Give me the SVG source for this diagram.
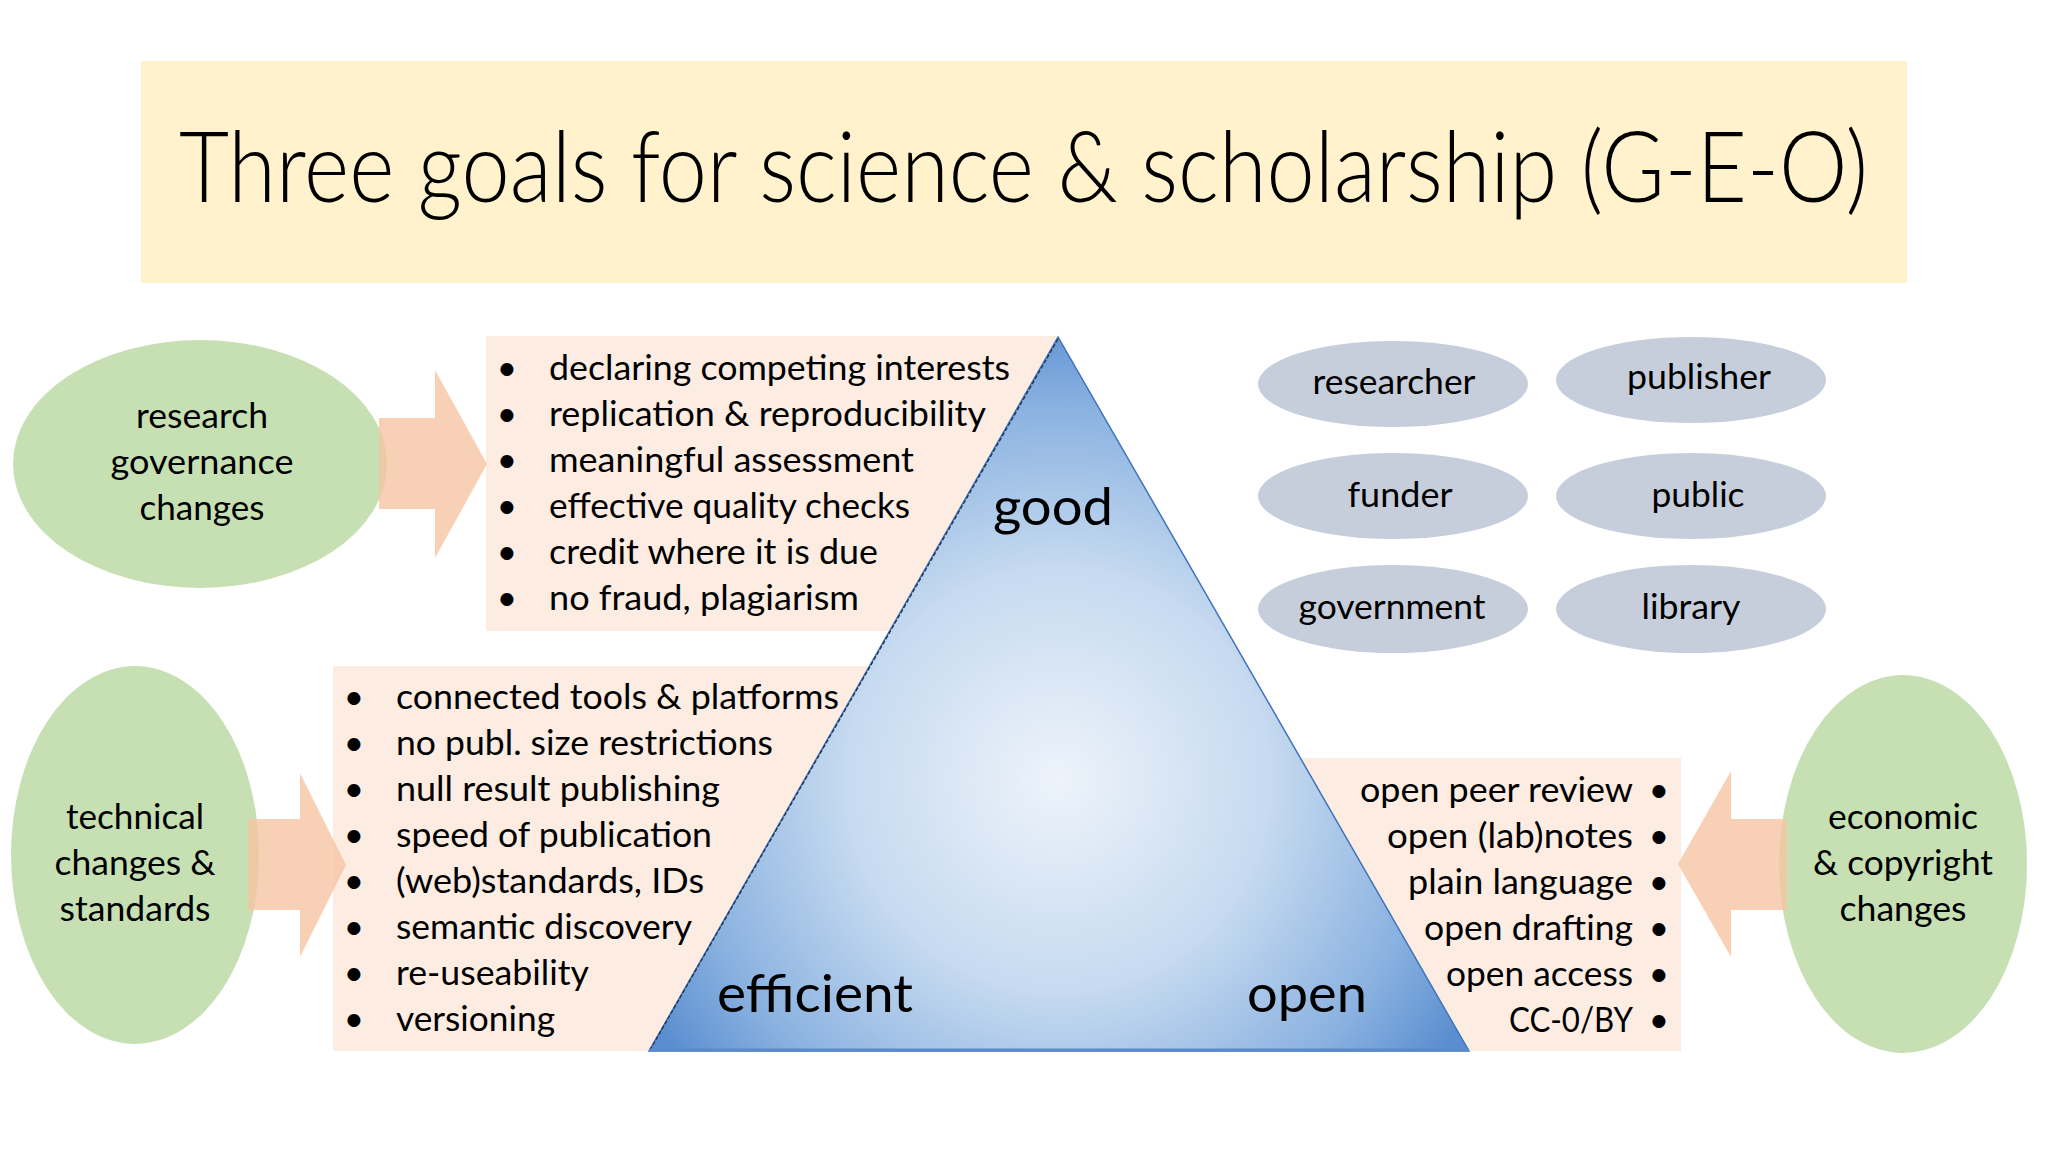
<svg xmlns="http://www.w3.org/2000/svg" width="2048" height="1152" viewBox="0 0 2048 1152">
<style>
text{font-family:Lato,"Open Sans","Liberation Sans",sans-serif;fill:#000;}
.t{font-size:35px;}
.c{font-size:35px;text-anchor:middle;}
.r{font-size:35px;text-anchor:end;}
.big{font-size:53px;}
.title{font-size:98px;font-weight:300;}
.green{fill:#C6E0B4;}
.gray{fill:#C7CEDB;}
.box{fill:#FCECE1;}
.arrow{fill:#F6C4A2;opacity:0.8;}
</style>
<defs>
<radialGradient id="tri" gradientUnits="userSpaceOnUse" cx="1058" cy="780" r="470">
<stop offset="0" stop-color="#EDF3FA"/>
<stop offset="0.45" stop-color="#C6DAF0"/>
<stop offset="0.8" stop-color="#89B1E0"/>
<stop offset="1" stop-color="#5B8ED0"/>
</radialGradient>
</defs>
<rect width="2048" height="1152" fill="#fff"/>
<g id="title">
<rect x="141" y="61" width="1766" height="222" fill="#FFF2CC"/>
<text class="title" x="179" y="202" textLength="1689" lengthAdjust="spacingAndGlyphs">Three goals for science &amp; scholarship (G-E-O)</text>
</g>
<g id="list-good">
<rect class="box" x="486" y="336" width="572" height="295"/>
<text class="c" x="507" y="380">•</text><text class="t" x="549" y="380" textLength="461" lengthAdjust="spacingAndGlyphs">declaring competing interests</text>
<text class="c" x="507" y="426">•</text><text class="t" x="549" y="426" textLength="437" lengthAdjust="spacingAndGlyphs">replication &amp; reproducibility</text>
<text class="c" x="507" y="472">•</text><text class="t" x="549" y="472" textLength="365" lengthAdjust="spacingAndGlyphs">meaningful assessment</text>
<text class="c" x="507" y="518">•</text><text class="t" x="549" y="518" textLength="361" lengthAdjust="spacingAndGlyphs">effective quality checks</text>
<text class="c" x="507" y="564">•</text><text class="t" x="549" y="564" textLength="329" lengthAdjust="spacingAndGlyphs">credit where it is due</text>
<text class="c" x="507" y="610">•</text><text class="t" x="549" y="610" textLength="310" lengthAdjust="spacingAndGlyphs">no fraud, plagiarism</text>
</g>
<g id="list-efficient">
<rect class="box" x="333" y="666" width="537" height="385"/>
<text class="c" x="354" y="709">•</text><text class="t" x="396" y="709" textLength="443" lengthAdjust="spacingAndGlyphs">connected tools &amp; platforms</text>
<text class="c" x="354" y="755">•</text><text class="t" x="396" y="755" textLength="377" lengthAdjust="spacingAndGlyphs">no publ. size restrictions</text>
<text class="c" x="354" y="801">•</text><text class="t" x="396" y="801" textLength="324" lengthAdjust="spacingAndGlyphs">null result publishing</text>
<text class="c" x="354" y="847">•</text><text class="t" x="396" y="847" textLength="316" lengthAdjust="spacingAndGlyphs">speed of publication</text>
<text class="c" x="354" y="893">•</text><text class="t" x="396" y="893" textLength="308" lengthAdjust="spacingAndGlyphs">(web)standards, IDs</text>
<text class="c" x="354" y="939">•</text><text class="t" x="396" y="939" textLength="296" lengthAdjust="spacingAndGlyphs">semantic discovery</text>
<text class="c" x="354" y="985">•</text><text class="t" x="396" y="985" textLength="193" lengthAdjust="spacingAndGlyphs">re-useability</text>
<text class="c" x="354" y="1031">•</text><text class="t" x="396" y="1031" textLength="159" lengthAdjust="spacingAndGlyphs">versioning</text>
</g>
<g id="list-open">
<rect class="box" x="1300" y="758" width="381" height="293"/>
<text class="r" x="1633" y="802" textLength="273" lengthAdjust="spacingAndGlyphs">open peer review</text><text class="c" x="1659" y="802">•</text>
<text class="r" x="1633" y="848" textLength="246" lengthAdjust="spacingAndGlyphs">open (lab)notes</text><text class="c" x="1659" y="848">•</text>
<text class="r" x="1633" y="894" textLength="225" lengthAdjust="spacingAndGlyphs">plain language</text><text class="c" x="1659" y="894">•</text>
<text class="r" x="1633" y="940" textLength="209" lengthAdjust="spacingAndGlyphs">open drafting</text><text class="c" x="1659" y="940">•</text>
<text class="r" x="1633" y="986" textLength="187" lengthAdjust="spacingAndGlyphs">open access</text><text class="c" x="1659" y="986">•</text>
<text class="r" x="1633" y="1032" textLength="124" lengthAdjust="spacingAndGlyphs">CC-0/BY</text><text class="c" x="1659" y="1032">•</text>
</g>
<g id="triangle">
<polygon points="1058,337 649,1051 1469,1051" fill="url(#tri)" stroke="#3F74BA" stroke-width="1.5"/>
<line x1="1058" y1="339" x2="650" y2="1050" stroke="#1E3350" stroke-width="1.3" stroke-dasharray="4 2"/>
<line x1="649" y1="1050" x2="1469" y2="1050" stroke="#5A8ACB" stroke-width="3"/>
<text class="big" x="993" y="525" textLength="120" lengthAdjust="spacingAndGlyphs">good</text>
<text class="big" x="717" y="1012" textLength="196" lengthAdjust="spacingAndGlyphs">efficient</text>
<text class="big" x="1247" y="1012" textLength="120" lengthAdjust="spacingAndGlyphs">open</text>
</g>
<g id="research-governance">
<ellipse class="green" cx="200" cy="464" rx="187" ry="124"/>
<text class="c" x="202" y="428" textLength="132" lengthAdjust="spacingAndGlyphs">research</text>
<text class="c" x="202" y="474" textLength="183" lengthAdjust="spacingAndGlyphs">governance</text>
<text class="c" x="202" y="520" textLength="125" lengthAdjust="spacingAndGlyphs">changes</text>
</g>
<g id="technical">
<ellipse class="green" cx="135" cy="855" rx="124" ry="189"/>
<text class="c" x="135" y="829" textLength="138" lengthAdjust="spacingAndGlyphs">technical</text>
<text class="c" x="135" y="875" textLength="161" lengthAdjust="spacingAndGlyphs">changes &amp;</text>
<text class="c" x="135" y="921" textLength="151" lengthAdjust="spacingAndGlyphs">standards</text>
</g>
<g id="economic">
<ellipse class="green" cx="1903" cy="864" rx="124" ry="189"/>
<text class="c" x="1903" y="829" textLength="150" lengthAdjust="spacingAndGlyphs">economic</text>
<text class="c" x="1903" y="875" textLength="180" lengthAdjust="spacingAndGlyphs">&amp; copyright</text>
<text class="c" x="1903" y="921" textLength="127" lengthAdjust="spacingAndGlyphs">changes</text>
</g>
<g id="connectors">
<polygon class="arrow" points="379,418 435,418 435,370 487,464 435,558 435,509 379,509"/>
<polygon class="arrow" points="248,819 300,819 300,773 346,865 300,957 300,910 248,910"/>
<polygon class="arrow" points="1787,819 1731,819 1731,771 1678,864 1731,957 1731,910 1787,910"/>
</g>
<g id="researcher"><ellipse class="gray" cx="1393" cy="384" rx="135" ry="43"/><text class="c" x="1394" y="394" textLength="163" lengthAdjust="spacingAndGlyphs">researcher</text></g>
<g id="publisher"><ellipse class="gray" cx="1691" cy="380" rx="135" ry="43"/><text class="c" x="1699" y="389" textLength="144" lengthAdjust="spacingAndGlyphs">publisher</text></g>
<g id="funder"><ellipse class="gray" cx="1393" cy="496" rx="135" ry="43"/><text class="c" x="1400" y="507" textLength="105" lengthAdjust="spacingAndGlyphs">funder</text></g>
<g id="public"><ellipse class="gray" cx="1691" cy="496" rx="135" ry="43"/><text class="c" x="1698" y="507" textLength="93" lengthAdjust="spacingAndGlyphs">public</text></g>
<g id="government"><ellipse class="gray" cx="1393" cy="609" rx="135" ry="44"/><text class="c" x="1392" y="619" textLength="187" lengthAdjust="spacingAndGlyphs">government</text></g>
<g id="library"><ellipse class="gray" cx="1691" cy="609" rx="135" ry="44"/><text class="c" x="1691" y="619" textLength="99" lengthAdjust="spacingAndGlyphs">library</text></g>
</svg>
